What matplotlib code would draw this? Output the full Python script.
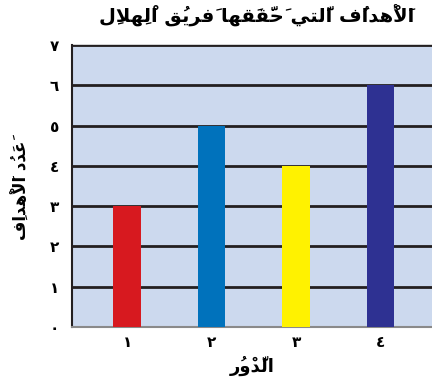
import matplotlib
matplotlib.use("Agg")
import matplotlib.pyplot as plt

# goals per round
rounds = [1, 2, 3, 4]
goals = [3, 5, 4, 6]
bar_colors = ["#d7191f", "#0072bc", "#fff200", "#2e3192"]
round_labels = ["١", "٢", "٣", "٤"]
y_ticks = [0, 1, 2, 3, 4, 5, 6, 7]
y_labels = ["٠", "١", "٢", "٣", "٤", "٥", "٦", "٧"]

title = "الأَهْدافُ الَّتي حَقَّقَها فَريقُ الْهِلالِ"
xlabel = "الدَّوْرُ"
ylabel = "عَدَدُ الأَهْدافِ"

# matplotlib does no Arabic shaping, so pick presentation forms by hand
# (isolated, final, initial, medial); two-form letters only join on the right
FORMS = {
    "ا": "\uFE8D\uFE8E", "أ": "\uFE83\uFE84", "إ": "\uFE87\uFE88", "آ": "\uFE81\uFE82",
    "د": "\uFEA9\uFEAA", "ذ": "\uFEAB\uFEAC", "ر": "\uFEAD\uFEAE", "و": "\uFEED\uFEEE",
    "ب": "\uFE8F\uFE90\uFE91\uFE92", "ت": "\uFE95\uFE96\uFE97\uFE98",
    "ح": "\uFEA1\uFEA2\uFEA3\uFEA4", "ع": "\uFEC9\uFECA\uFECB\uFECC",
    "ف": "\uFED1\uFED2\uFED3\uFED4", "ق": "\uFED5\uFED6\uFED7\uFED8",
    "ل": "\uFEDD\uFEDE\uFEDF\uFEE0", "ه": "\uFEE9\uFEEA\uFEEB\uFEEC",
    "ي": "\uFEF1\uFEF2\uFEF3\uFEF4",
}
LAM_ALEF = {"ا": "\uFEFB\uFEFC", "أ": "\uFEF7\uFEF8", "إ": "\uFEF9\uFEFA", "آ": "\uFEF5\uFEF6"}
MARKS = set("\u064B\u064C\u064D\u064E\u064F\u0650\u0651\u0652")


def shape(text):
    # split into clusters: base letter + its harakat
    clusters = []
    for ch in text:
        if ch in MARKS and clusters:
            clusters[-1][1].append(ch)
        else:
            clusters.append([ch, []])

    # merge lam + alef into one ligature cluster
    merged = []
    for base, marks in clusters:
        if base in LAM_ALEF and merged and merged[-1][0] == "ل":
            prev = merged.pop()
            merged.append(["LA" + base, prev[1] + marks])
        else:
            merged.append([base, marks])

    def joins_left(b):
        return b in FORMS and len(FORMS[b]) == 4

    def is_letter(b):
        return b in FORMS or b.startswith("LA")

    out = []
    for i, (base, marks) in enumerate(merged):
        prev = merged[i - 1][0] if i > 0 else None
        nxt = merged[i + 1][0] if i + 1 < len(merged) else None
        from_prev = prev is not None and joins_left(prev)
        if base.startswith("LA"):
            glyph = LAM_ALEF[base[2]][1 if from_prev else 0]
        elif base in FORMS:
            f = FORMS[base]
            to_next = len(f) == 4 and nxt is not None and is_letter(nxt)
            idx = {(False, False): 0, (True, False): 1, (False, True): 2, (True, True): 3}[(from_prev, to_next)]
            glyph = f[idx]
        else:
            glyph = base
        out.append(glyph + "".join(marks))
    # right-to-left: reverse cluster order for left-to-right drawing
    return "".join(reversed(out))


fig = plt.figure(figsize=(4.32, 3.81), dpi=100)
ax = fig.add_axes([0.167, 0.142, 0.833, 0.740])
ax.set_facecolor("#ccd9ee")

ax.bar(rounds, goals, width=0.33, color=bar_colors, zorder=3)

ax.set_xlim(0.35, 4.61)
ax.set_ylim(0, 7)
ax.set_yticks(y_ticks)
ax.set_yticklabels(y_labels, fontsize=11, fontweight="bold")
ax.set_xticks(rounds)
ax.set_xticklabels(round_labels, fontsize=11, fontweight="bold")
ax.tick_params(length=0, pad=9.5, axis="y")
ax.tick_params(length=0, pad=6, axis="x")

ax.yaxis.grid(True, color="#231f20", linewidth=2, zorder=1)
ax.set_axisbelow(True)

ax.spines["right"].set_visible(False)
ax.spines["top"].set_color("#231f20")
ax.spines["top"].set_linewidth(1)
ax.spines["left"].set_color("#231f20")
ax.spines["left"].set_linewidth(1.5)
ax.spines["bottom"].set_color("#8a8a8a")
ax.spines["bottom"].set_linewidth(1.5)

fig.text(0.595, 0.958, shape(title), ha="center", va="center", fontsize=14, fontweight="bold")
ax.set_xlabel(shape(xlabel), fontsize=13, fontweight="bold", labelpad=4)
fig.text(0.05, 0.50, shape(ylabel), ha="center", va="center", rotation=90, fontsize=12, fontweight="bold")

fig.savefig("out.png", dpi=100)
